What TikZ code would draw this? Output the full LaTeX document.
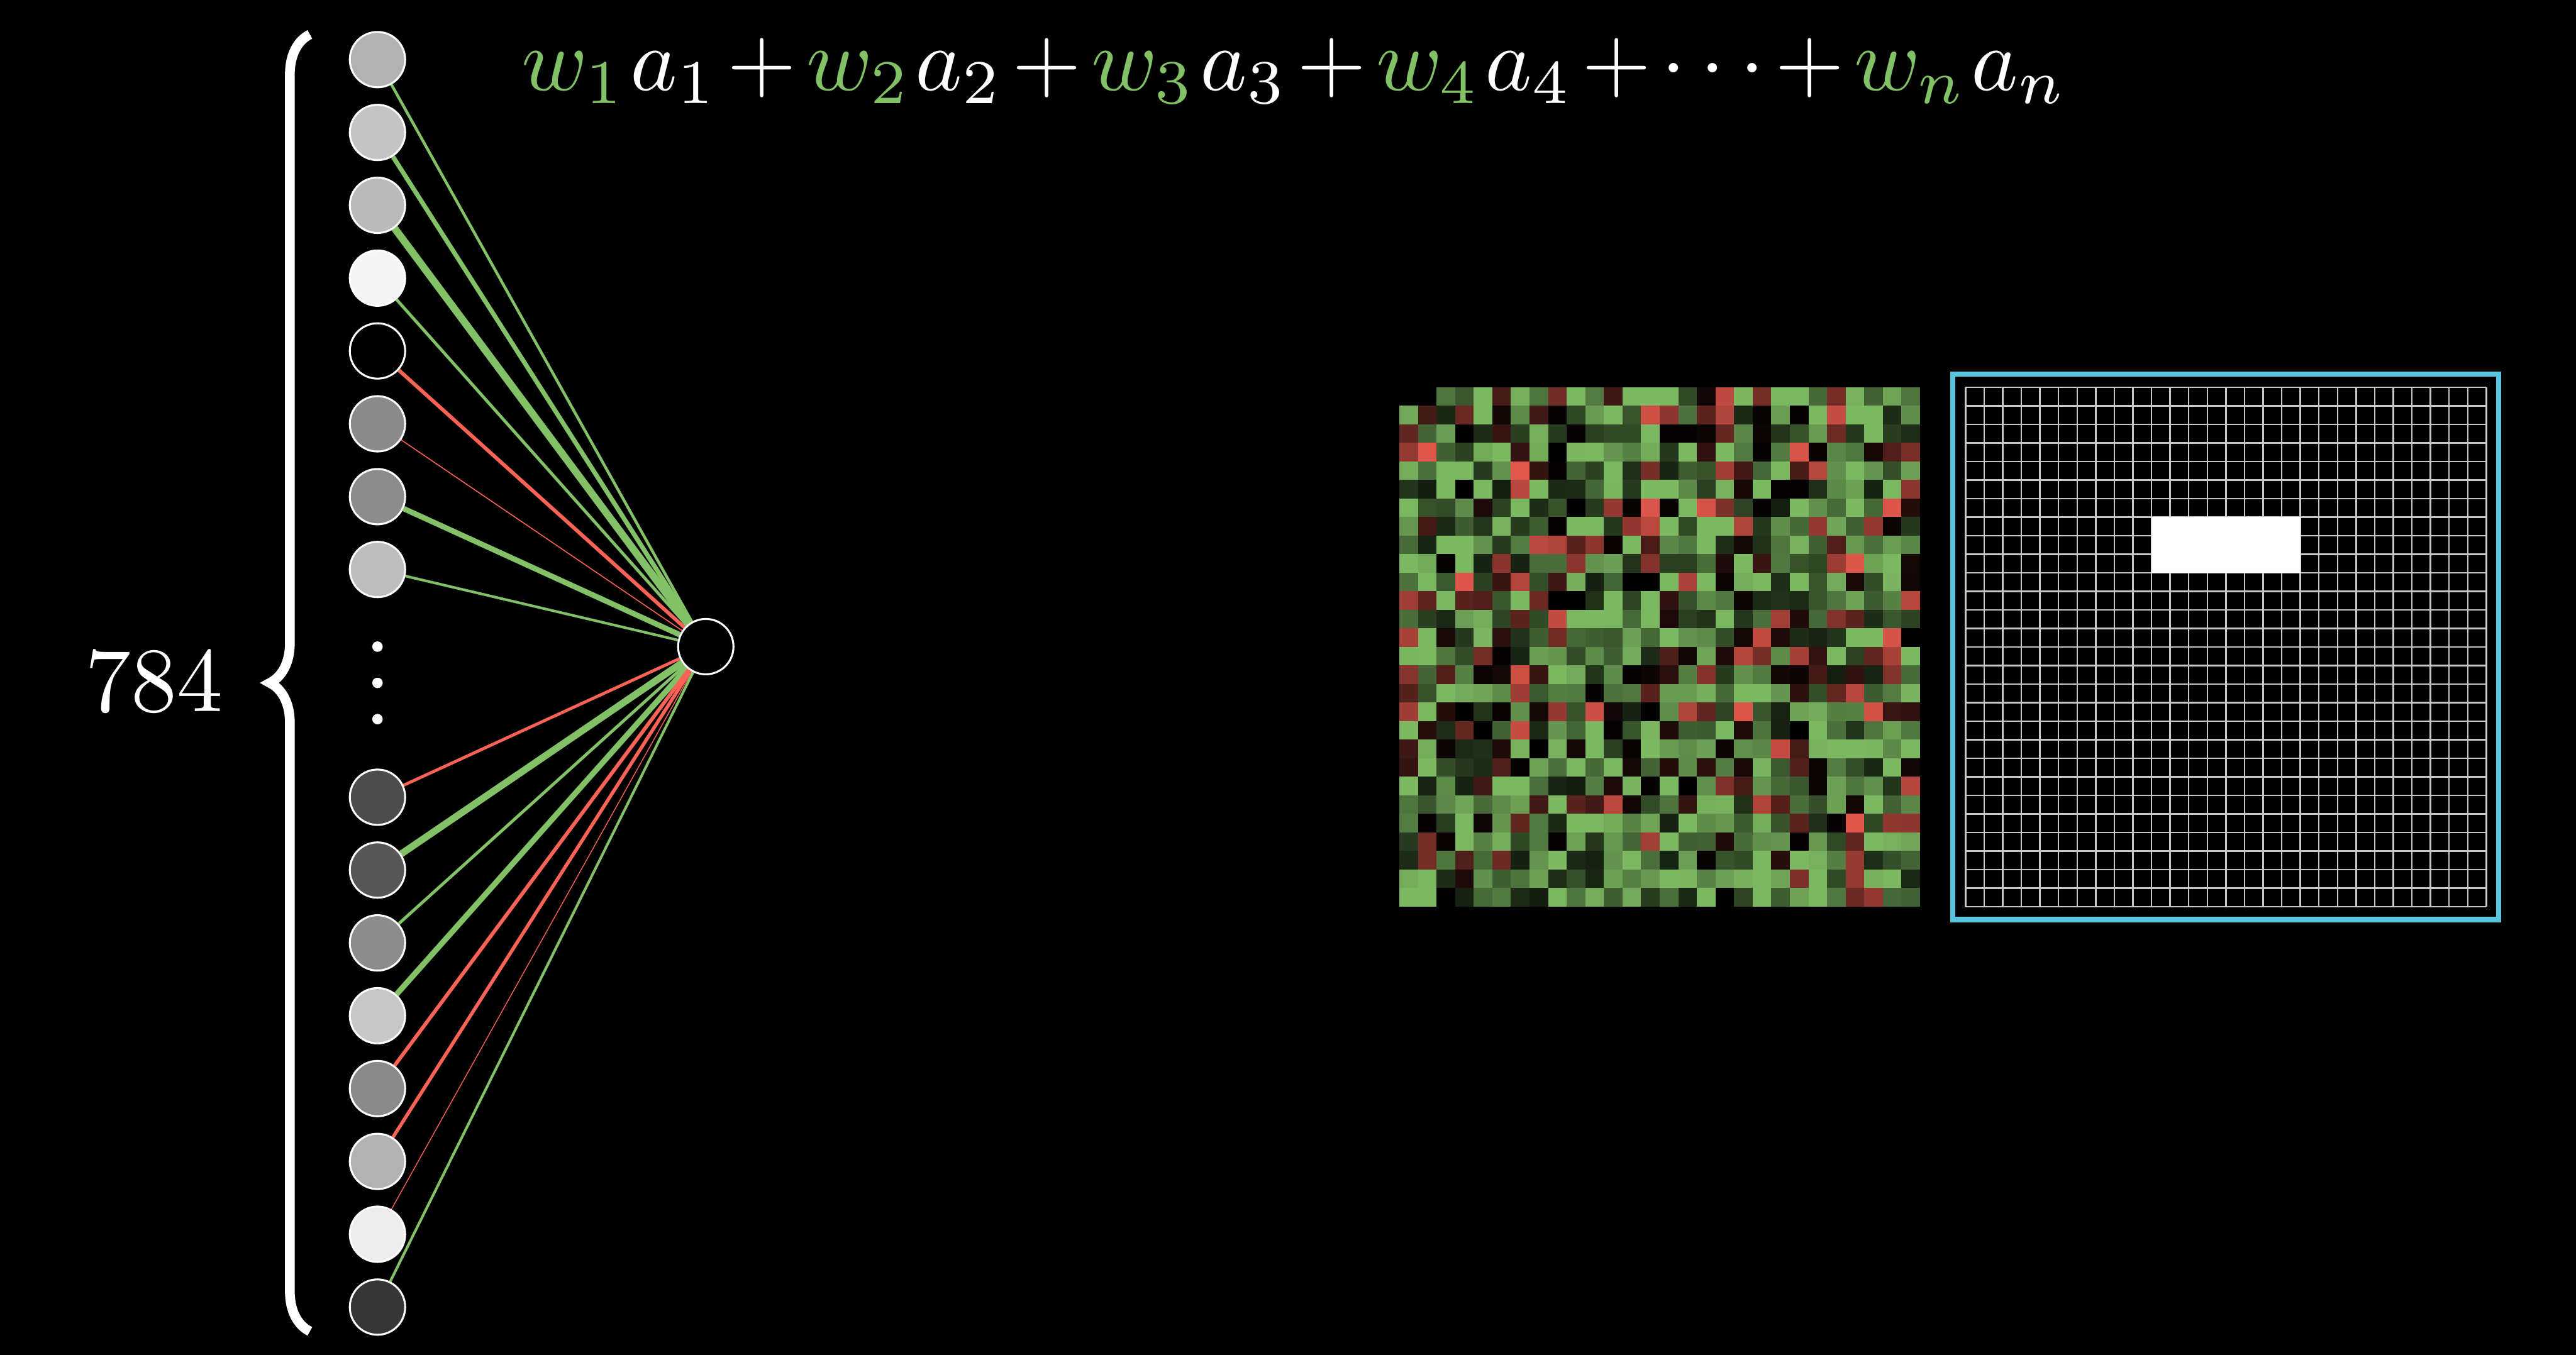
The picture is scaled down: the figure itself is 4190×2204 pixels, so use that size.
\documentclass[tikz,border=0pt]{standalone}
\usepackage{amsmath}
\usepackage{xcolor}
\usepackage{tikz}
\usetikzlibrary{backgrounds, decorations.pathreplacing}

\definecolor{wpos}{RGB}{131,193,103}
\definecolor{wneg}{RGB}{252,98,85}
\definecolor{framecol}{RGB}{88,196,221}

\begin{document}
\begin{tikzpicture}[
    x=0.01cm, y=-0.01cm,
    neuron/.style={circle, draw=white, line width=0.9pt, minimum size=0.9cm,
      inner sep=0pt},
    dot/.style={circle, fill=white, minimum size=0.17cm, inner sep=0pt},
    edgepos/.style={draw=wpos},
    edgeneg/.style={draw=wneg},
    gridline/.style={draw=white!78!black, line width=0.7pt},
    bigtext/.style={text=white, inner sep=0pt, scale=4.25},
    sumtext/.style={text=white, inner sep=0pt, scale=4.12}
]
\begin{pgfonlayer}{background}
  \fill[black] (0,0) rectangle (4190,2204);
\end{pgfonlayer}

\foreach \i/\y/\g in {1/97/70, 2/215.5/77, 3/334/73, 4/452.5/96, 5/571/0,
    6/689.5/54, 7/808/55, 8/926.5/74, 9/1297/30, 10/1415.5/34, 11/1534/55,
    12/1652.5/78, 13/1771/54, 14/1889.5/70, 15/2008/93, 16/2126.5/21}
  \node[neuron, fill=white!\g!black] (in\i) at (614,\y) {};
\foreach \k/\y in {1/1052, 2/1111, 3/1170}
  \node[dot] (vdot\k) at (614,\y) {};
\node[neuron, fill=black] (out) at (1148,1052) {};

\begin{pgfonlayer}{background}
\foreach \i/\s/\w in {1/edgepos/1.3, 2/edgepos/2.1, 3/edgepos/3.4, 4/edgepos/1.4,
    5/edgeneg/1.7, 6/edgeneg/0.45, 7/edgepos/2.5, 8/edgepos/1.2, 9/edgeneg/1.4,
    10/edgepos/3.2, 11/edgepos/1.4, 12/edgepos/2.6, 13/edgeneg/1.7,
    14/edgeneg/1.6, 15/edgeneg/0.4, 16/edgepos/1.2}
  \draw[\s, line width=\w pt] (in\i) -- (out);
\end{pgfonlayer}

\draw[white, line width=4.5pt, decorate, decoration={brace, amplitude=0.65cm}]
  (504,2166) -- (504,56);
\node[bigtext] (count) at (251,1109) {784};

\node[sumtext, anchor=base west] (wsum) at (846,147)
  {$\medmuskip=2mu
    \textcolor{wpos}{w_1}\mkern1mu a_1+\textcolor{wpos}{w_2}\mkern1mu a_2
    +\textcolor{wpos}{w_3}\mkern1mu a_3+\textcolor{wpos}{w_4}\mkern1mu a_4
    +\cdots+\textcolor{wpos}{w_n}\mkern1mu a_n$};

\pgfmathsetseed{2718}
\foreach \r in {0,...,27}
  \foreach \c in {0,...,27} {
    \pgfmathsetmacro{\wt}{1.5*rnd-0.45}
    \ifdim\wt pt>0pt
      \pgfmathsetmacro{\lev}{min(95,15+95*\wt)}
      \fill[wpos!\lev!black] (2276+30.25*\c,630+30.18*\r) rectangle ++(30.6,30.5);
    \else
      \pgfmathsetmacro{\lev}{90*(abs(\wt)/0.45)^1.7}
      \fill[wneg!\lev!black] (2276+30.25*\c,630+30.18*\r) rectangle ++(30.6,30.5);
    \fi
  }

\foreach \k in {0,...,28} {
  \draw[gridline] (3197+30.25*\k,630) -- (3197+30.25*\k,1475);
  \draw[gridline] (3197,630+30.18*\k) -- (4044,630+30.18*\k);
}
\fill[white] (3197+10*30.25,630+7*30.18) rectangle ++(8*30.25,3*30.18);
\draw[framecol, line width=2.4pt] (3176,609) rectangle (4064,1496);
\end{tikzpicture}
\end{document}
